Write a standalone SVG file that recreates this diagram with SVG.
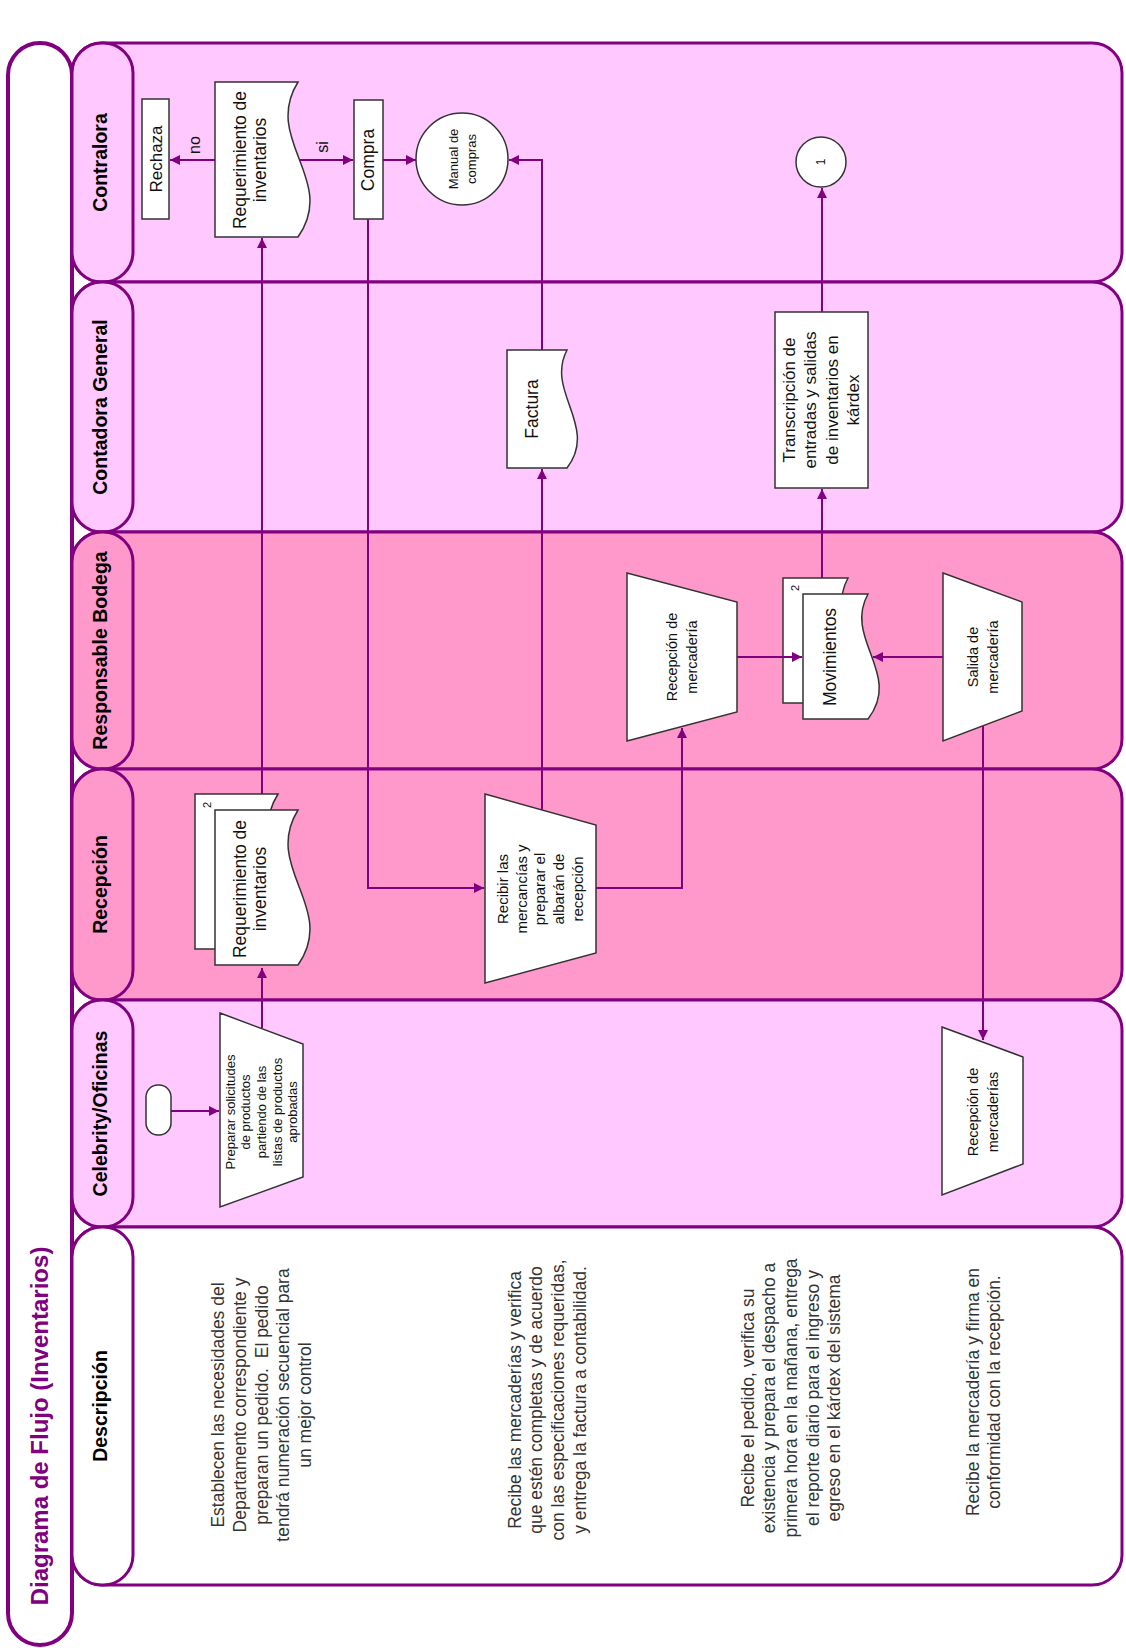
<svg xmlns="http://www.w3.org/2000/svg" width="1126" height="1648" viewBox="0 0 1126 1648">
<defs>
<marker id="arr" markerUnits="userSpaceOnUse" markerWidth="11" markerHeight="11" refX="10" refY="5" orient="auto"><path d="M0,0 L10,5 L0,10 z" fill="#800080"/></marker>
<path id="docL" d="M0,0 H83 C47,58 123,98 83,155 H0 Z"/>
<path id="docM" d="M0,0 H65 C40,45 100,80 65,125 H0 Z"/>
<path id="docF" d="M0,0 H60 C38,42 92,76 60,118 H0 Z"/>
</defs>
<style>
.lane{stroke:#800080;stroke-width:3}
.lt{fill:#FFC8FF}
.dk{fill:#FF99CC}
.wh{fill:#ffffff}
.hd{font-family:"Liberation Sans",Arial,sans-serif;font-weight:bold;font-size:19.5px;fill:#000;text-anchor:middle}
.sh{fill:#fff;stroke:#333;stroke-width:1.5}
.t{font-family:"Liberation Sans",Arial,sans-serif;fill:#111;text-anchor:middle}
.d{font-family:"Liberation Sans",Arial,sans-serif;font-size:17.5px;fill:#333;text-anchor:middle;white-space:pre}
.c{fill:none;stroke:#800080;stroke-width:2}
</style>
<rect width="1126" height="1648" fill="#fff"/>
<g id="title">
<rect x="8" y="43" width="64" height="1602" rx="32" fill="#fff" stroke="#800080" stroke-width="4"/>
<text transform="translate(40,1426) rotate(-90)" font-family="Liberation Sans,Arial,sans-serif" font-weight="bold" font-size="24" fill="#800080" text-anchor="middle" y="8">Diagrama de Flujo (Inventarios)</text>
</g>
<g id="lanes">
<g id="lane-contralora"><rect class="lane lt" x="72" y="43" width="1050" height="239" rx="30"/><rect class="lane lt" x="72" y="43" width="61" height="239" rx="30"/><text class="hd" transform="translate(100,162.5) rotate(-90)" y="7">Contralora</text></g>
<g id="lane-contadora"><rect class="lane lt" x="72" y="282" width="1050" height="250" rx="30"/><rect class="lane lt" x="72" y="282" width="61" height="250" rx="30"/><text class="hd" transform="translate(100,407) rotate(-90)" y="7">Contadora General</text></g>
<g id="lane-bodega"><rect class="lane dk" x="72" y="532" width="1050" height="237" rx="30"/><rect class="lane dk" x="72" y="532" width="61" height="237" rx="30"/><text class="hd" transform="translate(100,650.5) rotate(-90)" y="7">Responsable Bodega</text></g>
<g id="lane-recepcion"><rect class="lane dk" x="72" y="769" width="1050" height="231" rx="30"/><rect class="lane dk" x="72" y="769" width="61" height="231" rx="30"/><text class="hd" transform="translate(100,884.5) rotate(-90)" y="7">Recepción</text></g>
<g id="lane-celebrity"><rect class="lane lt" x="72" y="1000" width="1050" height="227" rx="30"/><rect class="lane lt" x="72" y="1000" width="61" height="227" rx="30"/><text class="hd" transform="translate(100,1113.5) rotate(-90)" y="7">Celebrity/Oficinas</text></g>
<g id="lane-descripcion"><rect class="lane wh" x="72" y="1227" width="1050" height="358" rx="30"/><rect class="lane wh" x="72" y="1227" width="61" height="358" rx="30"/><text class="hd" transform="translate(100,1406) rotate(-90)" y="7">Descripción</text></g>
</g>
<g id="n-rechaza"><rect class="sh" x="142" y="99" width="27" height="120"/><text class="t" font-size="17" transform="translate(156,159) rotate(-90)" y="6">Rechaza</text></g>
<g id="n-req-contralora"><use href="#docL" class="sh" transform="translate(215,82)"/><text class="t" font-size="17.5" transform="translate(250,160) rotate(-90)"><tspan x="0" y="-4">Requerimiento de</tspan><tspan x="0" y="16">inventarios</tspan></text></g>
<g id="n-compra"><rect class="sh" x="354" y="100" width="29" height="119"/><text class="t" font-size="17.5" transform="translate(368,160) rotate(-90)" y="6">Compra</text></g>
<g id="n-manual"><circle class="sh" cx="462" cy="159" r="46"/><text class="t" font-size="13" transform="translate(462,159) rotate(-90)"><tspan x="0" y="-4.5">Manual de</tspan><tspan x="0" y="13.5">compras</tspan></text></g>
<g id="n-conector1"><circle class="sh" cx="821" cy="162" r="25"/><text class="t" font-size="12" transform="translate(821,162) rotate(-90)" y="4">1</text></g>
<g id="n-factura"><use href="#docF" class="sh" transform="translate(507,350)"/><text class="t" font-size="17.5" transform="translate(532,409) rotate(-90)" y="6">Factura</text></g>
<g id="n-transcripcion"><rect class="sh" x="775" y="312" width="93" height="176"/><text class="t" font-size="17" transform="translate(821,400) rotate(-90)"><tspan x="0" y="-26.25">Transcripción de</tspan><tspan x="0" y="-4.75">entradas y salidas</tspan><tspan x="0" y="16.75">de inventarios en</tspan><tspan x="0" y="38.25">kárdex</tspan></text></g>
<g id="n-movimientos"><use href="#docM" class="sh" transform="translate(783,578)"/><text class="t" font-size="11" transform="translate(795,588) rotate(-90)" y="4">2</text><use href="#docM" class="sh" transform="translate(803,594)"/><text class="t" font-size="17.5" transform="translate(830,657) rotate(-90)" y="6">Movimientos</text></g>
<g id="n-recep-mercaderia"><polygon class="sh" points="627,573 737,602 737,712 627,741"/><text class="t" font-size="14.5" transform="translate(682,657) rotate(-90)"><tspan x="0" y="-5">Recepción de</tspan><tspan x="0" y="15">mercadería</tspan></text></g>
<g id="n-salida"><polygon class="sh" points="943,573 1022,602 1022,711 943,741"/><text class="t" font-size="14.5" transform="translate(983,657) rotate(-90)"><tspan x="0" y="-5">Salida de</tspan><tspan x="0" y="15">mercadería</tspan></text></g>
<g id="n-req-recepcion"><use href="#docL" class="sh" transform="translate(195,794)"/><text class="t" font-size="11" transform="translate(207,805) rotate(-90)" y="4">2</text><use href="#docL" class="sh" transform="translate(215,810)"/><text class="t" font-size="17.5" transform="translate(250,889) rotate(-90)"><tspan x="0" y="-4">Requerimiento de</tspan><tspan x="0" y="16">inventarios</tspan></text></g>
<g id="n-recibir"><polygon class="sh" points="485,794 596,825 596,953 485,983"/><text class="t" font-size="15" transform="translate(540,889) rotate(-90)"><tspan x="0" y="-32.1">Recibir las</tspan><tspan x="0" y="-13.4">mercancías y</tspan><tspan x="0" y="5.3">preparar el</tspan><tspan x="0" y="24">albarán de</tspan><tspan x="0" y="42.7">recepción</tspan></text></g>
<g id="n-inicio"><rect class="sh" x="146" y="1085" width="25" height="50" rx="12"/></g>
<g id="n-preparar"><polygon class="sh" points="220,1013 303,1044 303,1177 220,1207"/><text class="t" font-size="13" transform="translate(261.5,1112) rotate(-90)"><tspan x="0" y="-26.9">Preparar solicitudes</tspan><tspan x="0" y="-11.2">de productos</tspan><tspan x="0" y="4.5">partiendo de las</tspan><tspan x="0" y="20.2">listas de productos</tspan><tspan x="0" y="35.9">aprobadas</tspan></text></g>
<g id="n-recep-mercaderias"><polygon class="sh" points="942,1027 1023,1057 1023,1164 942,1195"/><text class="t" font-size="14.5" transform="translate(983,1112) rotate(-90)"><tspan x="0" y="-5">Recepción de</tspan><tspan x="0" y="15">mercaderías</tspan></text></g>
<g id="connectors">
<path class="c" d="M171,1111 H219" marker-end="url(#arr)"/>
<path class="c" d="M262,1028 V968" marker-end="url(#arr)"/>
<path class="c" d="M262,794 V238" marker-end="url(#arr)"/>
<path class="c" d="M215,160 H170" marker-end="url(#arr)"/>
<path class="c" d="M300,160 H353" marker-end="url(#arr)"/>
<path class="c" d="M383,160 H416" marker-end="url(#arr)"/>
<path class="c" d="M368,219 V888 H484" marker-end="url(#arr)"/>
<path class="c" d="M542,810 V469" marker-end="url(#arr)"/>
<path class="c" d="M542,350 V160 H509" marker-end="url(#arr)"/>
<path class="c" d="M596,888 H682 V728" marker-end="url(#arr)"/>
<path class="c" d="M737,657 H802" marker-end="url(#arr)"/>
<path class="c" d="M943,657 H873" marker-end="url(#arr)"/>
<path class="c" d="M822,578 V489" marker-end="url(#arr)"/>
<path class="c" d="M822,312 V188" marker-end="url(#arr)"/>
<path class="c" d="M983,726 V1040" marker-end="url(#arr)"/>
<text class="t" font-size="16" transform="translate(194,145) rotate(-90)" y="6">no</text>
<text class="t" font-size="16" transform="translate(322,147) rotate(-90)" y="6">si</text>
</g>
<g id="descripciones">
<text class="d" transform="translate(261.5,1405) rotate(-90)"><tspan x="0" y="-37.4">Establecen las necesidades del</tspan><tspan x="0" y="-15.7">Departamento correspondiente y</tspan><tspan x="0" y="6">preparan un pedido.  El pedido</tspan><tspan x="0" y="27.7">tendrá numeración secuencial para</tspan><tspan x="0" y="49.4">un mejor control</tspan></text>
<text class="d" transform="translate(547,1400) rotate(-90)"><tspan x="0" y="-26.5">Recibe las mercaderías y verifica</tspan><tspan x="0" y="-4.8">que estén completas y de acuerdo</tspan><tspan x="0" y="16.9">con las especificaciones requeridas,</tspan><tspan x="0" y="38.6">y entrega la factura a contabilidad.</tspan></text>
<text class="d" transform="translate(791,1398) rotate(-90)"><tspan x="0" y="-37.4">Recibe el pedido, verifica su</tspan><tspan x="0" y="-15.7">existencia y prepara el despacho a</tspan><tspan x="0" y="6">primera hora en la mañana, entrega</tspan><tspan x="0" y="27.7">el reporte diario para el ingreso y</tspan><tspan x="0" y="49.4">egreso en el kárdex del sistema</tspan></text>
<text class="d" transform="translate(983.5,1392) rotate(-90)"><tspan x="0" y="-4.8">Recibe la mercadería y firma en</tspan><tspan x="0" y="16.9">conformidad con la recepción.</tspan></text>
</g>
</svg>
